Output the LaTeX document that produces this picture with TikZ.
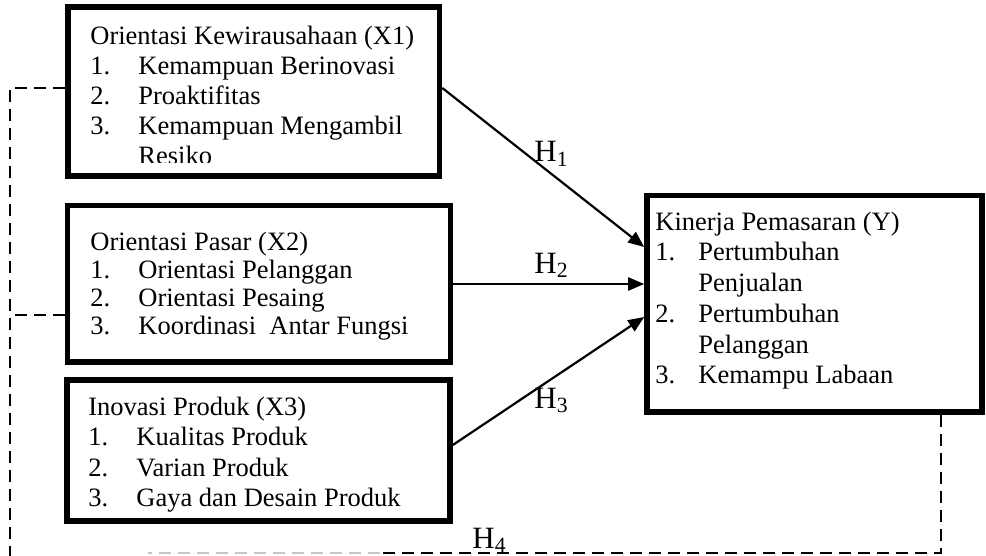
\documentclass[tikz,border=0pt]{standalone}
\usepackage{fontspec}
\setmainfont{Liberation Serif}
\usetikzlibrary{arrows.meta}
\begin{document}
\begin{tikzpicture}[x=0.5pt,y=-0.5pt,
  vbox/.style={draw, line width=2.8pt, rectangle, inner sep=0pt},
  txt/.style={anchor=base west, inner sep=0pt},
  arr/.style={line width=1.1pt, -{Triangle[length=8pt,width=6.5pt]}},
  dsh/.style={line width=1.1pt, dash pattern=on 6pt off 3.5pt},
  hlab/.style={anchor=base west, inner sep=0pt, font=\fontsize{15.5}{18}\selectfont}]
\useasboundingbox (0,0) rectangle (986,556);

% boxes
\node[vbox, minimum width=185.75pt, minimum height=84.5pt] (x1) at (253.75,91.5) {};
\node[vbox, minimum width=191.5pt, minimum height=78.25pt] (x2) at (259,283.75) {};
\node[vbox, minimum width=191.5pt, minimum height=70.5pt] (x3) at (258.5,450.5) {};
\node[vbox, minimum width=167.5pt, minimum height=108.25pt] (y) at (814.5,303.75) {};

% texts
\begin{scope}
\clip (70,9) rectangle (437,163);
\node[txt, font=\fontsize{13.25}{15}\selectfont] (t1) at (90,45) {\begin{tabular}[t]{@{}p{24pt}@{}l@{}}
\multicolumn{2}{@{}l@{}}{Orientasi Kewirausahaan (X1)}\\
1. & Kemampuan Berinovasi\\
2. & Proaktifitas\\
3. & Kemampuan Mengambil\\
 & Resiko
\end{tabular}};
\end{scope}

\node[txt, font=\fontsize{13.25}{14}\selectfont] (t2) at (90,250) {\begin{tabular}[t]{@{}p{24pt}@{}l@{}}
\multicolumn{2}{@{}l@{}}{Orientasi Pasar (X2)}\\
1. & Orientasi Pelanggan\\
2. & Orientasi Pesaing\\
3. & Koordinasi~ Antar Fungsi
\end{tabular}};

\node[txt, font=\fontsize{13.25}{15.3}\selectfont] (t3) at (88,415) {\begin{tabular}[t]{@{}p{24pt}@{}l@{}}
\multicolumn{2}{@{}l@{}}{Inovasi Produk (X3)}\\
1. & Kualitas Produk\\
2. & Varian Produk\\
3. & Gaya dan Desain Produk
\end{tabular}};

\node[txt, font=\fontsize{13.25}{15.4}\selectfont] (ty) at (655,230) {\begin{tabular}[t]{@{}p{21.5pt}@{}l@{}}
\multicolumn{2}{@{}l@{}}{Kinerja Pemasaran (Y)}\\
1. & Pertumbuhan\\
 & Penjualan\\
2. & Pertumbuhan\\
 & Pelanggan\\
3. & Kemampu Labaan
\end{tabular}};

% arrows
\draw[arr] (x1.east |- 0,88) -- (y.west |- 0,247);
\draw[arr] (x2.east |- 0,284) -- (y.west |- 0,284);
\draw[arr] (x3.east |- 0,445) -- (y.west |- 0,317);

% labels
\node[hlab] (h1) at (534,162) {H\textsubscript{1}};
\node[hlab] (h2) at (534,273) {H\textsubscript{2}};
\node[hlab] (h3) at (534,408) {H\textsubscript{3}};
\node[hlab] (h4) at (472,548) {H\textsubscript{4}};

% dashed connectors
\coordinate (lt) at (10,88);
\coordinate (lb) at (10,556);
\coordinate (lm) at (10,315);
\coordinate (rb) at (941,553);
\coordinate (bm) at (380,553);
\coordinate (bl) at (148,553);
\draw[dsh] (x1.west |- lt) -- (lt) -- (lb);
\draw[dsh] (x2.west |- lm) -- (lm);
\draw[dsh] (rb |- y.south) -- (rb) -- (bm);
\draw[dsh, gray!45] (bm) -- (bl);
\end{tikzpicture}
\end{document}
